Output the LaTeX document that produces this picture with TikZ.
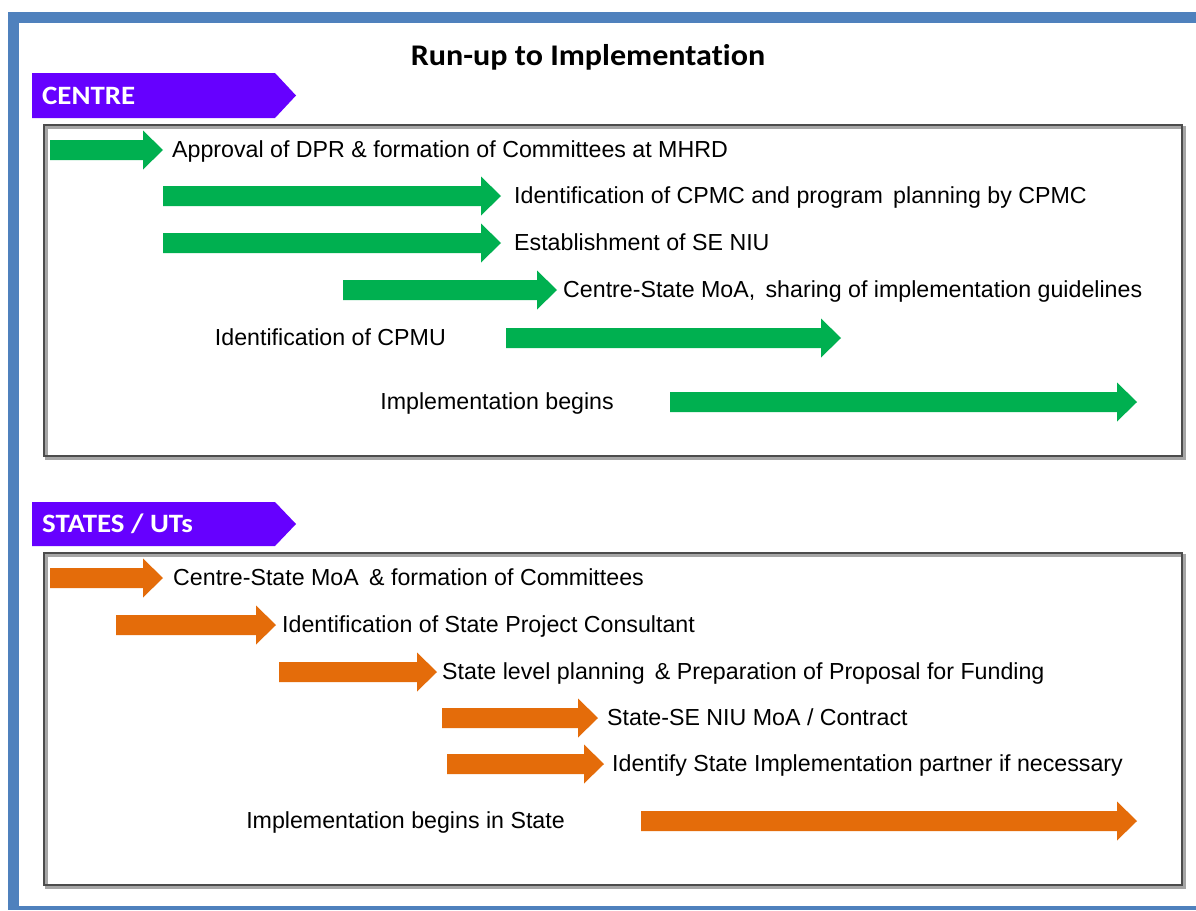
\documentclass[tikz,border=0pt]{standalone}
\usepackage{fontspec}
\setmainfont{Liberation Sans}
\newfontfamily\calibri[Ligatures=NoCommon]{Carlito}
\definecolor{frameblue}{HTML}{4F81BD}
\definecolor{bannerpurple}{HTML}{6600FF}
\definecolor{arrgreen}{HTML}{00B050}
\definecolor{arrorange}{HTML}{E46C0A}
\newcommand\fatarrow[5]{% name, colour, x1, x2, y
  \fill[#2] (#3,#5-10) -- (#4-20,#5-10) -- (#4-20,#5-19.5) -- (#4,#5) -- (#4-20,#5+19.5) -- (#4-20,#5+10) -- (#3,#5+10) -- cycle;
  \coordinate (#1) at (#4,#5);}
\newcommand\banner[4]{% name, text, ytop, ybottom
  \fill[bannerpurple] (32,#3) -- (275,#3) -- (296,{(#3+#4)/2}) -- (275,#4) -- (32,#4) -- cycle;
  \node[bannertext] (#1) at (42,{(#3+#4)/2+8.5}) {\scalebox{1.09}[1]{#2}};}
\newcommand\panel[2]{% ytop, ybottom
  \draw[black!35, line width=3pt] (46,#1+2) rectangle (1184,#2+2);
  \draw[black!70, line width=2pt] (44,#1) rectangle (1182,#2);}
\begin{document}
\begin{tikzpicture}[x=1pt,y=-1pt,
  label/.style={inner sep=0pt, anchor=base west, font=\fontsize{23.2}{25}\selectfont, text=black},
  labelr/.style={label, anchor=base east},
  bannertext/.style={inner sep=0pt, anchor=base west, text=white, font=\calibri\bfseries\fontsize{26.5}{29}\selectfont},
  titletext/.style={inner sep=0pt, anchor=base, font=\calibri\bfseries\fontsize{30}{32}\selectfont}]
\useasboundingbox (0,0) rectangle (1196,910);
\fill[white] (0,0) rectangle (1196,910);
% outer blue frame
\fill[frameblue] (8,12) rectangle (1196,23);
\fill[frameblue] (8,12) rectangle (19,910);
\fill[frameblue] (8,906) rectangle (1196,910);
% title
\node[titletext] (title) at (588,65) {\scalebox{1.07}[1]{Run-up to Implementation}};
% panels
\panel{125}{456}
\panel{553}{885}
% banners
\banner{centre}{CENTRE}{73}{118}
\banner{states}{STATES / UTs}{502}{546}
% centre arrows
\fatarrow{g1}{arrgreen}{50}{163}{150}
\fatarrow{g2}{arrgreen}{163}{501}{196}
\fatarrow{g3}{arrgreen}{163}{501}{243}
\fatarrow{g4}{arrgreen}{343}{557}{290}
\fatarrow{g5}{arrgreen}{506}{841}{338}
\fatarrow{g6}{arrgreen}{670}{1137}{402}
\node[label] (t1) at (172,157) {Approval of DPR \& formation of Committees at MHRD};
\node[label] (t2) at (514,203) {Identification of CPMC and program\, planning by CPMC};
\node[label] (t3) at (514,250) {Establishment of SE NIU};
\node[label] (t4) at (563,297) {Centre-State MoA,\, sharing of implementation guidelines};
\node[labelr] (t5) at (446,345) {Identification of CPMU};
\node[labelr] (t6) at (614,409) {Implementation begins};
% state arrows
\fatarrow{o1}{arrorange}{50}{163}{578}
\fatarrow{o2}{arrorange}{116}{276}{625}
\fatarrow{o3}{arrorange}{279}{437}{672}
\fatarrow{o4}{arrorange}{442}{598}{718}
\fatarrow{o5}{arrorange}{447}{604}{764}
\fatarrow{o6}{arrorange}{641}{1137}{821}
\node[label] (s1) at (173,585) {Centre-State MoA\, \& formation of Committees};
\node[label] (s2) at (282,632) {Identification of State Project Consultant};
\node[label] (s3) at (442,679) {State level planning\, \& Preparation of Proposal for Funding};
\node[label] (s4) at (607,725) {State-SE NIU MoA / Contract};
\node[label] (s5) at (612,771) {Identify State Implementation partner if necessary};
\node[labelr] (s6) at (565,828) {Implementation begins in State};
\end{tikzpicture}
\end{document}
